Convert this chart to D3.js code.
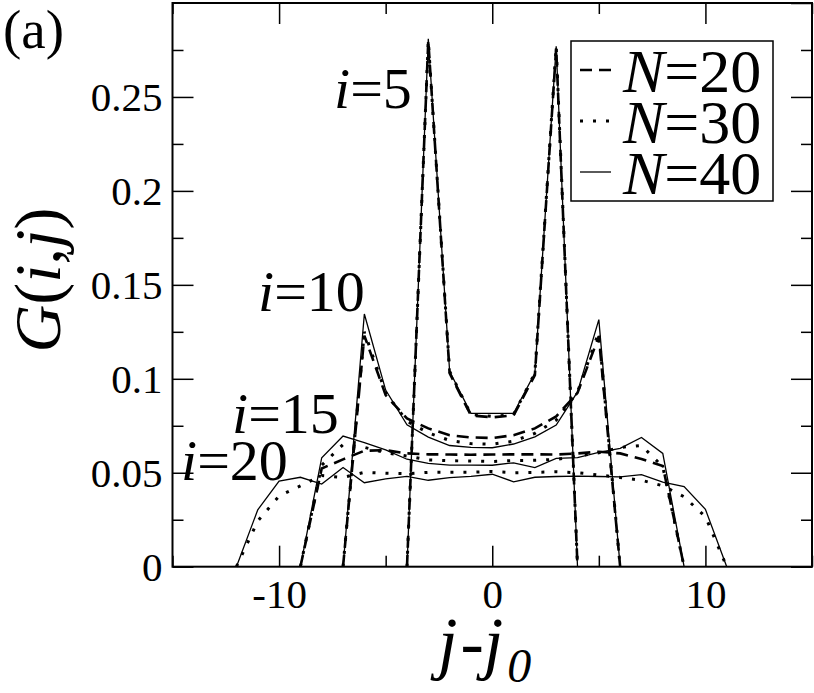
<!DOCTYPE html>
<html><head><meta charset="utf-8">
<script src="https://cdn.jsdelivr.net/npm/d3@7"></script>
<style>
html,body{margin:0;padding:0;background:#fff;}
svg{display:block;}
text{font-family:"Liberation Serif","Times New Roman",serif;fill:#000;}
</style>
</head><body>
<svg id="c" width="814" height="693"></svg>
<script>
// ---- data ----
const xMajorTicks = [-10, 0, 10];
const xMajorLabels = ["-10", "0", "10"];
const xMinorTicks = [-15, -5, 5, 15];
const yMajorTicks = [0, 0.05, 0.1, 0.15, 0.2, 0.25];
const yMajorLabels = ["0", "0.05", "0.1", "0.15", "0.2", "0.25"];
const yMinorTicks = [0.025, 0.075, 0.125, 0.175, 0.225, 0.275];
const legendNames = ["20", "30", "40"];

const jI5 = [-4, -3, -2, -1, 0, 1, 2, 3, 4];
const gI5N20 = [0, 0.280, 0.103, 0.0805, 0.0795, 0.0805, 0.102, 0.276, 0];
const gI5N30 = [0, 0.280, 0.104, 0.0810, 0.0800, 0.0810, 0.103, 0.277, 0];
const gI5N40 = [0, 0.281, 0.104, 0.0816, 0.0816, 0.0816, 0.103, 0.277, 0];

const jI10 = [-7, -6, -5, -4, -3, -2, -1, 0, 1, 2, 3, 4, 5, 6];
const gI10N20 = [0, 0.1230, 0.0913, 0.0789, 0.0736, 0.0700, 0.0688, 0.0685, 0.0700, 0.0736, 0.0800, 0.0925, 0.1225, 0];
const gI10N30 = [0, 0.1250, 0.0925, 0.0775, 0.0712, 0.0672, 0.0655, 0.0652, 0.0668, 0.0710, 0.0780, 0.0930, 0.1250, 0];
const gI10N40 = [0, 0.1345, 0.0940, 0.0755, 0.0690, 0.0645, 0.0635, 0.0633, 0.0653, 0.0691, 0.0754, 0.0930, 0.1315, 0];

const jI15 = [-9, -8, -7, -6, -5, -4, -3, -2, -1, 0, 1, 2, 3, 4, 5, 6, 7, 8, 9];
const gI15N20 = [0, 0.0523, 0.0571, 0.0617, 0.0620, 0.0603, 0.0598, 0.0597, 0.0596, 0.0597, 0.0598, 0.0598, 0.0597, 0.0603, 0.0612, 0.0603, 0.0573, 0.0536, 0];
const gI15N30 = [0, 0.0540, 0.0650, 0.0635, 0.0606, 0.0589, 0.0568, 0.0564, 0.0562, 0.0560, 0.0565, 0.0566, 0.0571, 0.0589, 0.0606, 0.0635, 0.0645, 0.0532, 0];
const gI15N40 = [0, 0.0580, 0.0695, 0.0660, 0.0622, 0.0572, 0.0550, 0.0541, 0.0541, 0.0540, 0.0553, 0.0527, 0.0577, 0.0580, 0.0608, 0.0630, 0.0688, 0.0603, 0];

const jI20 = [-12, -11, -10, -9, -8, -7, -6, -5, -4, -3, -2, -1, 0, 1, 2, 3, 4, 5, 6, 7, 8, 9, 10, 11];
const gI20N30 = [0, 0.0243, 0.0376, 0.0430, 0.0485, 0.0475, 0.0502, 0.0497, 0.0495, 0.0502, 0.0502, 0.0503, 0.0507, 0.0500, 0.0502, 0.0505, 0.0500, 0.0488, 0.0475, 0.0460, 0.0431, 0.0372, 0.0266, 0];
const gI20N40 = [0, 0.0303, 0.0456, 0.0476, 0.0440, 0.0528, 0.0447, 0.0467, 0.0481, 0.0460, 0.0474, 0.0481, 0.0492, 0.0452, 0.0476, 0.0480, 0.0482, 0.0480, 0.0478, 0.0490, 0.0450, 0.0426, 0.0305, 0];

// ---- styles ----
const styles = {
  N20: {w: 2.6, dash: "12 7"},
  N30: {w: 3, dash: "3 10"},
  N40: {w: 1.3, dash: null}
};

const curves = [
  {j: jI5, g: gI5N20, s: "N20"}, {j: jI5, g: gI5N30, s: "N30"}, {j: jI5, g: gI5N40, s: "N40"},
  {j: jI10, g: gI10N20, s: "N20"}, {j: jI10, g: gI10N30, s: "N30"}, {j: jI10, g: gI10N40, s: "N40"},
  {j: jI15, g: gI15N20, s: "N20"}, {j: jI15, g: gI15N30, s: "N30"}, {j: jI15, g: gI15N40, s: "N40"},
  {j: jI20, g: gI20N30, s: "N30"}, {j: jI20, g: gI20N40, s: "N40"}
];

const svg = d3.select("#c");
const L = 172.5, R = 812, T = 3, B = 566.7;
const x = d3.scaleLinear().domain([-15, 15]).range([L, R]);
const y = d3.scaleLinear().domain([0, 0.3]).range([B, T]);

const plot = svg.append("g");
const line = d3.line().x(d => x(d[0])).y(d => y(d[1]));

curves.forEach(c => {
  const st = styles[c.s];
  plot.append("path")
    .datum(c.j.map((v, k) => [v, c.g[k]]))
    .attr("d", line)
    .attr("fill", "none")
    .attr("stroke", "#000")
    .attr("stroke-width", st.w)
    .attr("stroke-linejoin", "miter")
    .attr("stroke-dasharray", st.dash);
});

// ---- axes (inward ticks on all sides) ----
function styleAxis(g) {
  g.select(".domain").remove();
  g.attr("font-family", null);
  g.selectAll(".tick line").attr("stroke", "#000").attr("stroke-width", 1.5);
}
const major = 21, minor = 11;
svg.append("g").attr("transform", `translate(0,${B})`)
  .call(d3.axisBottom(x).tickValues(xMajorTicks).tickSize(-major).tickPadding(12).tickFormat((d, k) => xMajorLabels[k]))
  .call(styleAxis)
  .call(g => g.selectAll("text").attr("font-size", 41).attr("dy", "0.72em"));
svg.append("g").attr("transform", `translate(0,${B})`)
  .call(d3.axisBottom(x).tickValues(xMinorTicks).tickSize(-minor).tickFormat(""))
  .call(styleAxis);
svg.append("g").attr("transform", `translate(0,${T})`)
  .call(d3.axisTop(x).tickValues(xMajorTicks).tickSize(-major).tickFormat(""))
  .call(styleAxis);
svg.append("g").attr("transform", `translate(0,${T})`)
  .call(d3.axisTop(x).tickValues(xMinorTicks).tickSize(-minor).tickFormat(""))
  .call(styleAxis);

svg.append("g").attr("transform", `translate(${L},0)`)
  .call(d3.axisLeft(y).tickValues(yMajorTicks).tickSize(-major).tickPadding(10).tickFormat((d, k) => yMajorLabels[k]))
  .call(styleAxis)
  .call(g => g.selectAll("text").attr("font-size", 41).attr("dy", "0.34em"));
svg.append("g").attr("transform", `translate(${L},0)`)
  .call(d3.axisLeft(y).tickValues(yMinorTicks).tickSize(-minor).tickFormat(""))
  .call(styleAxis);
svg.append("g").attr("transform", `translate(${R},0)`)
  .call(d3.axisRight(y).tickValues(yMajorTicks.concat([0.3])).tickSize(-major).tickFormat(""))
  .call(styleAxis);
svg.append("g").attr("transform", `translate(${R},0)`)
  .call(d3.axisRight(y).tickValues(yMinorTicks).tickSize(-minor).tickFormat(""))
  .call(styleAxis);

// frame
svg.append("rect").attr("x", L).attr("y", T).attr("width", R - L).attr("height", B - T)
  .attr("fill", "none").attr("stroke", "#000").attr("stroke-width", 2);

// ---- curve labels ----
const labels = [
  {t: "5", x: 334, y: 108},
  {t: "10", x: 258, y: 311},
  {t: "15", x: 232, y: 433},
  {t: "20", x: 181, y: 480}
];
labels.forEach(l => {
  const t = svg.append("text").attr("x", l.x).attr("y", l.y).attr("font-size", 58);
  t.append("tspan").attr("font-style", "italic").text("i");
  t.append("tspan").text("=" + l.t);
});

// ---- legend ----
const lg = svg.append("g");
lg.append("rect").attr("x", 571).attr("y", 41).attr("width", 202).attr("height", 160)
  .attr("fill", "#fff").attr("stroke", "#000").attr("stroke-width", 1.5);
const legKeys = ["N20", "N30", "N40"];
legendNames.forEach((n, k) => {
  const cy = 70 + k * 51;
  const st = styles[legKeys[k]];
  lg.append("line").attr("x1", 580).attr("x2", 611).attr("y1", cy).attr("y2", cy)
    .attr("stroke", "#000").attr("stroke-width", st.w).attr("stroke-dasharray", st.dash);
  const t = lg.append("text").attr("x", 623).attr("y", cy + 22).attr("font-size", 62);
  t.append("tspan").attr("font-style", "italic").text("N");
  t.append("tspan").text("=" + n);
});

// ---- titles ----
svg.append("text").attr("x", 3).attr("y", 48).attr("font-size", 55).text("(a)");

const xt = svg.append("text").attr("x", 438).attr("y", 666).attr("font-size", 70);
xt.append("tspan").attr("font-style", "italic").text("j");
xt.append("tspan").attr("dx", 3).text("-");
xt.append("tspan").attr("font-style", "italic").text("j");
xt.append("tspan").attr("font-style", "italic").attr("font-size", 48).attr("dx", 4).attr("dy", 16).text("0");

const yt = svg.append("text").attr("transform", "translate(60,280) rotate(-90)")
  .attr("text-anchor", "middle").attr("font-size", 66);
yt.append("tspan").attr("font-style", "italic").text("G");
yt.append("tspan").text("(");
yt.append("tspan").attr("font-style", "italic").text("i");
yt.append("tspan").text(",");
yt.append("tspan").attr("font-style", "italic").text("j");
yt.append("tspan").text(")");
</script>
</body></html>
